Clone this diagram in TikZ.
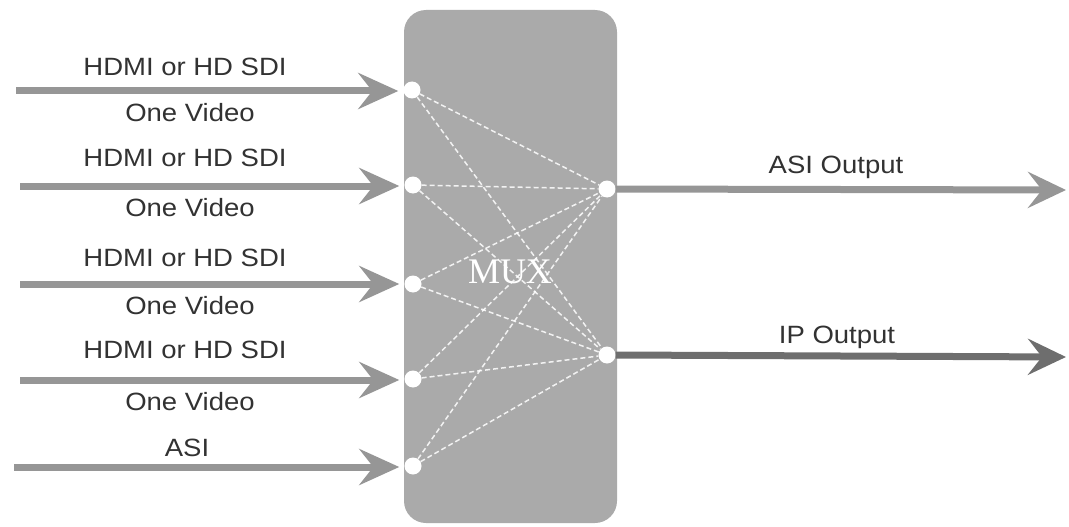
\documentclass[tikz,border=0pt]{standalone}
\usepackage{fontspec}
\setmainfont{Liberation Sans}
\newfontfamily\muxfont{Liberation Serif}
\usetikzlibrary{arrows.meta}
\definecolor{boxgray}{RGB}{170,170,170}
\definecolor{arrgray}{RGB}{150,150,150}
\definecolor{darkarr}{RGB}{110,110,110}
\definecolor{txtgray}{RGB}{50,50,50}
\tikzset{
  inarrow/.style={draw=arrgray, line width=7pt, -{Stealth[length=40pt,width=36pt,inset=14pt]}},
  outarrow/.style={draw=arrgray, line width=7pt, -{Stealth[length=38pt,width=36pt,inset=14pt]}},
  iparrow/.style={outarrow, draw=darkarr},
  port/.style={circle, fill=white, draw=none, minimum size=17pt, inner sep=0pt},
  lbl/.style={text=txtgray, font=\fontsize{25}{28}\selectfont, xscale=1.1, inner sep=0pt},
  link/.style={draw=white, line width=1.5pt, dash pattern=on 5pt off 3pt, opacity=0.85},
  muxbox/.style={fill=boxgray, draw=none, rounded corners=22pt}
}
\begin{document}
\begin{tikzpicture}[x=1pt,y=-1pt]
\useasboundingbox (0,0) rectangle (1069,527);
% box
\path[muxbox] (404,10) rectangle (617,523);
% ports
\node[port] (i1) at (412,90) {};
\node[port] (i2) at (413,185) {};
\node[port] (i3) at (413,284) {};
\node[port] (i4) at (413,379) {};
\node[port] (i5) at (413,466) {};
\node[port] (o1) at (607,189) {};
\node[port] (o2) at (607,355) {};
% internal links
\foreach \i in {1,...,5}{
  \draw[link] (i\i) -- (o1);
  \draw[link] (i\i) -- (o2);
}
\node[text=white, font=\muxfont\fontsize{36}{38}\selectfont] (mux) at (510,272) {MUX};
% input start points
\coordinate (s1) at (16,91);
\coordinate (s2) at (20,186);
\coordinate (s3) at (20,284);
\coordinate (s4) at (20,380);
\coordinate (s5) at (14,467);
\coordinate (e1) at (1066,190);
\coordinate (e2) at (1066,357);
\foreach \k in {1,...,5}{
  \draw[inarrow, shorten >=5pt] (s\k) -- (s\k -| i\k.west);
}
\draw[outarrow] (o1.east) -- (e1);
\draw[iparrow] (o2.east) -- (e2);
% labels
\node[lbl] (h1) at (185,67) {HDMI or HD SDI};
\node[lbl] (v1) at (190,113) {One Video};
\node[lbl] (h2) at (185,158) {HDMI or HD SDI};
\node[lbl] (v2) at (190,208) {One Video};
\node[lbl] (h3) at (185,258) {HDMI or HD SDI};
\node[lbl] (v3) at (190,306) {One Video};
\node[lbl] (h4) at (185,350) {HDMI or HD SDI};
\node[lbl] (v4) at (190,402) {One Video};
\node[lbl] (a5) at (187,448) {ASI};
\node[lbl] (ao) at (836,167) {ASI Output};
\node[lbl] (ipo) at (837,337) {IP Output};
\end{tikzpicture}
\end{document}
